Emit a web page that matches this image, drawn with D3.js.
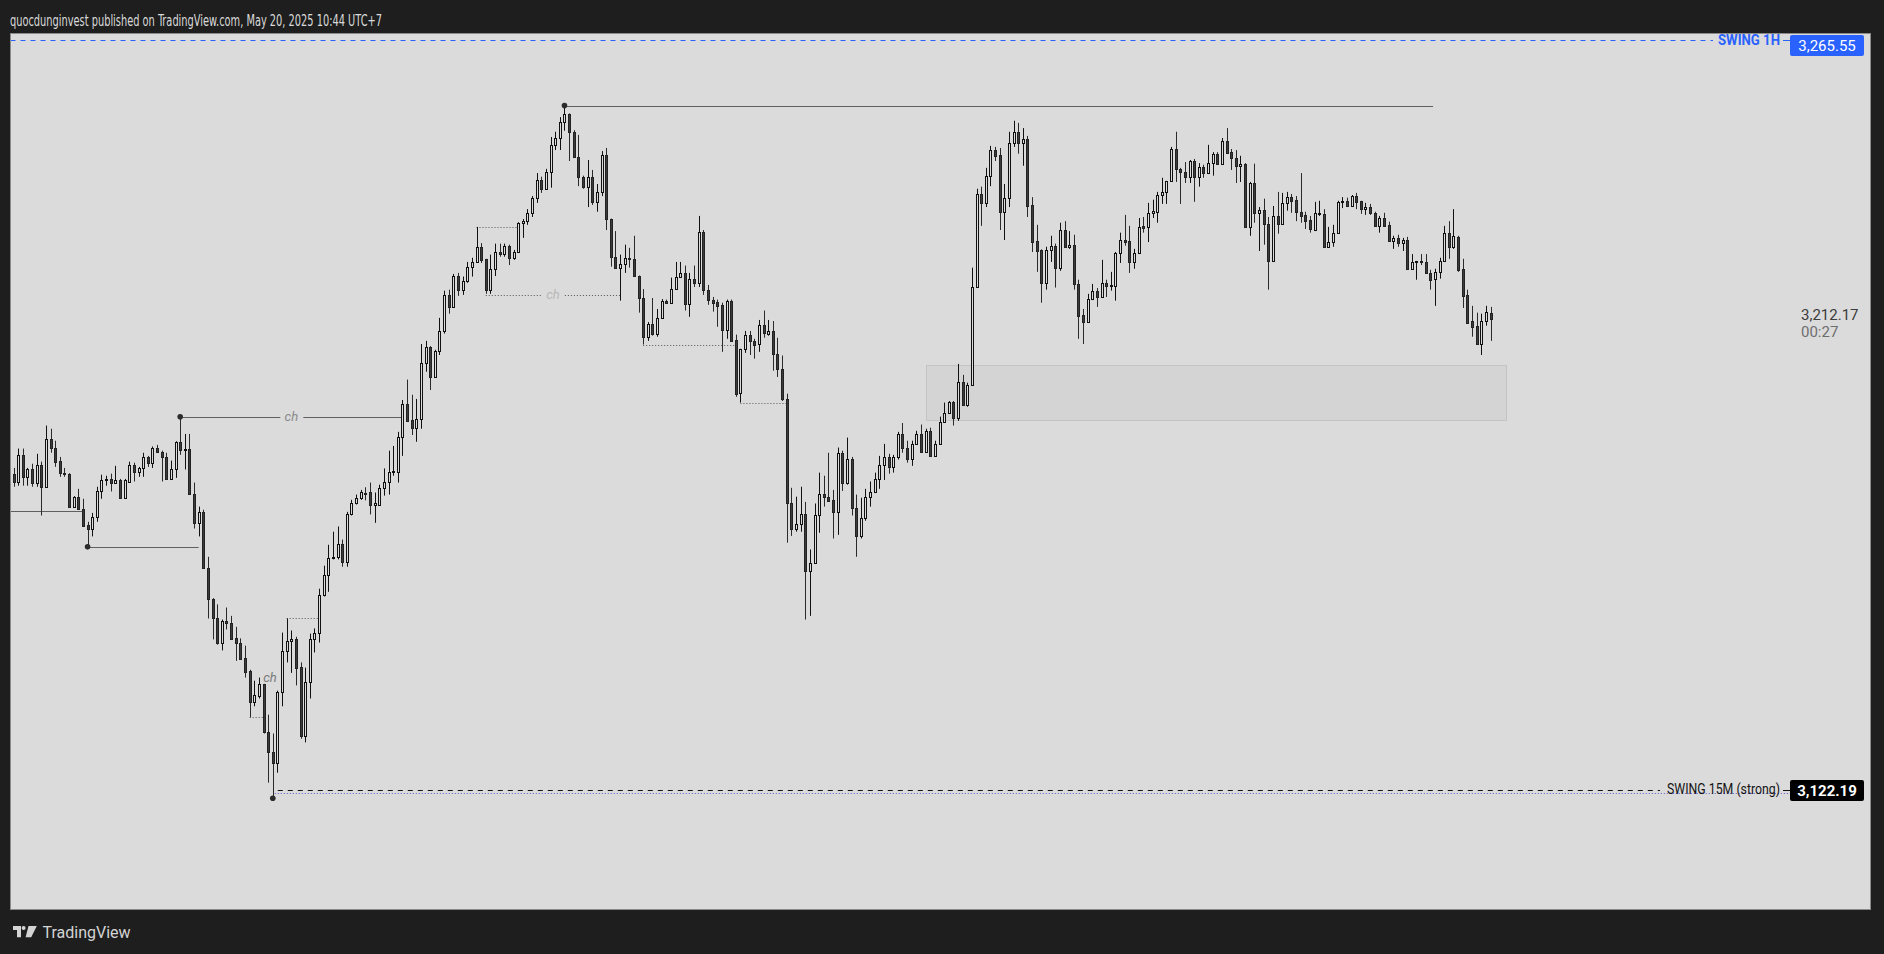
<!DOCTYPE html>
<html>
<head>
<meta charset="utf-8">
<script src="https://cdn.jsdelivr.net/npm/d3@7/dist/d3.min.js"></script>
<style>
html,body{margin:0;padding:0;background:#1e1e1e;overflow:hidden;}
svg{display:block;}
</style>
</head>
<body>
<svg id="chart" width="1884" height="954"></svg>
<script>
// ================= DATA =================
const openV = [
3182.6,3181.1,3186.2,3182.0,3183.4,3180.9,3184.3,3180.1,3189.3,3187.6,
3185.1,3182.7,3182.6,3176.3,3178.2,3175.9,3172.7,3172.1,3174.4,3179.2,
3181.3,3181.5,3180.9,3181.4,3178.0,3181.1,3184.3,3183.0,3183.6,3185.8,
3184.7,3187.6,3186.8,3185.8,3181.6,3183.4,3188.7,3187.2,3187.4,3178.8,
3173.2,3175.3,3164.6,3158.7,3154.9,3150.3,3154.5,3154.1,3151.2,3150.3,
3147.4,3144.9,3139.0,3140.0,3142.3,3133.1,3129.3,3127.3,3140.9,3148.6,
3150.5,3150.9,3145.7,3132.5,3142.8,3150.9,3152.2,3159.3,3163.3,3166.5,
3166.7,3169.2,3165.8,3174.9,3177.0,3178.0,3178.9,3179.0,3176.7,3176.7,
3179.9,3181.1,3183.0,3183.0,3189.7,3196.0,3192.9,3191.4,3193.1,3203.8,
3206.9,3201.1,3206.1,3209.9,3216.8,3214.5,3220.4,3217.8,3219.5,3222.2,
3223.1,3226.0,3223.7,3217.8,3221.8,3225.0,3224.6,3226.2,3223.9,3225.0,
3230.6,3230.9,3232.5,3235.4,3238.8,3237.1,3240.3,3245.5,3246.8,3249.9,
3251.4,3248.0,3243.2,3239.4,3237.5,3239.4,3234.6,3236.5,3243.6,3231.3,
3224.1,3222.0,3222.7,3223.9,3223.7,3220.4,3216.2,3208.8,3211.3,3209.4,
3212.4,3215.7,3215.3,3218.0,3220.3,3221.0,3215.1,3219.9,3219.1,3228.9,
3217.8,3215.9,3215.5,3214.9,3210.1,3215.7,3208.2,3198.1,3206.5,3209.2,
3208.0,3207.4,3211.1,3209.4,3209.9,3205.5,3202.7,3196.9,3176.9,3172.1,
3173.0,3174.8,3163.9,3165.6,3174.6,3178.8,3178.2,3177.6,3175.3,3186.6,
3180.9,3185.5,3176.1,3170.6,3174.2,3178.2,3179.0,3181.6,3184.3,3185.7,
3183.9,3185.8,3190.2,3187.6,3185.5,3188.3,3190.2,3186.8,3190.8,3186.0,
3188.3,3192.5,3194.3,3196.4,3193.3,3200.2,3195.8,3199.6,3218.3,3236.1,
3234.4,3239.6,3244.5,3243.6,3232.7,3235.4,3245.9,3248.0,3245.9,3246.6,
3234.0,3227.1,3225.4,3219.1,3225.4,3226.2,3222.0,3229.2,3226.0,3226.4,
3218.9,3213.0,3211.6,3216.0,3217.6,3216.4,3219.1,3218.5,3218.5,3224.8,
3227.3,3227.1,3223.1,3224.8,3230.0,3229.8,3232.5,3232.7,3235.9,3236.5,
3238.6,3244.7,3240.9,3240.3,3239.4,3242.4,3239.4,3241.3,3240.1,3242.0,
3243.8,3241.9,3246.2,3244.1,3243.0,3241.5,3241.9,3229.8,3238.2,3232.5,
3233.1,3230.4,3223.3,3231.9,3230.4,3234.4,3235.5,3235.0,3232.7,3232.1,
3231.1,3229.2,3232.3,3232.3,3226.0,3226.9,3228.7,3234.6,3234.8,3233.8,
3235.7,3234.8,3233.2,3233.6,3232.5,3230.0,3231.5,3230.2,3227.1,3227.7,
3226.7,3227.3,3221.8,3223.1,3223.2,3223.1,3221.0,3219.9,3221.2,3223.3,
3228.7,3226.0,3227.9,3221.8,3216.8,3211.8,3210.9,3207.4,3211.8,3213.4
];
const highV = [
3183.7,3187.4,3187.4,3183.7,3184.5,3186.4,3184.9,3191.8,3191.2,3188.9,
3185.8,3183.7,3182.7,3178.3,3179.7,3177.8,3173.4,3175.1,3180.1,3182.4,
3182.2,3182.6,3184.1,3181.6,3181.6,3184.9,3184.7,3183.9,3186.6,3186.0,
3187.8,3188.1,3187.0,3186.6,3185.1,3188.8,3193.9,3190.2,3190.2,3180.9,
3176.3,3175.7,3166.7,3158.8,3157.6,3154.7,3157.0,3155.4,3153.3,3151.1,
3149.7,3145.1,3143.0,3143.6,3142.4,3136.5,3132.9,3141.1,3152.2,3154.9,
3152.6,3151.4,3146.5,3145.5,3152.0,3153.0,3160.6,3165.0,3169.0,3171.5,
3172.5,3170.0,3175.3,3177.6,3178.6,3179.5,3180.0,3180.9,3179.0,3180.5,
3183.6,3187.0,3187.9,3190.6,3196.7,3200.6,3197.7,3196.9,3207.4,3208.0,
3207.0,3206.3,3212.4,3217.6,3217.8,3220.8,3221.0,3220.3,3223.1,3223.9,
3229.8,3226.7,3223.7,3224.5,3226.6,3226.6,3226.6,3226.4,3225.4,3230.7,
3231.3,3233.2,3235.7,3240.1,3239.4,3240.9,3247.0,3248.0,3250.8,3253.0,
3251.5,3248.3,3247.4,3239.6,3242.6,3240.7,3238.0,3244.3,3244.9,3231.4,
3229.0,3224.5,3226.4,3225.8,3228.1,3220.5,3217.9,3211.6,3216.2,3214.1,
3216.0,3215.9,3220.1,3223.1,3223.1,3222.4,3221.0,3222.4,3231.9,3229.2,
3218.7,3216.4,3215.9,3215.3,3215.9,3215.9,3209.2,3206.5,3209.9,3209.9,
3208.4,3212.0,3213.8,3212.0,3211.8,3208.6,3205.2,3197.9,3179.9,3178.2,
3180.1,3177.2,3168.1,3176.9,3182.8,3182.2,3186.6,3179.5,3187.6,3187.0,
3189.5,3185.8,3178.6,3178.0,3179.7,3181.1,3182.8,3186.0,3188.3,3186.4,
3186.2,3190.6,3192.3,3188.9,3188.9,3190.8,3192.0,3191.2,3191.4,3188.9,
3193.5,3196.2,3196.5,3196.5,3203.6,3201.5,3200.0,3222.0,3237.1,3237.5,
3241.1,3245.3,3245.1,3244.9,3238.0,3248.0,3250.1,3249.7,3248.7,3247.2,
3235.5,3230.2,3225.5,3226.0,3228.1,3226.6,3230.6,3230.9,3229.0,3228.3,
3219.7,3214.1,3217.0,3218.9,3218.1,3223.5,3219.7,3221.2,3225.0,3228.7,
3232.1,3230.0,3225.6,3231.5,3231.7,3234.4,3235.0,3236.5,3239.2,3238.6,
3245.1,3248.0,3241.1,3242.2,3242.6,3242.8,3242.0,3241.7,3245.5,3244.1,
3244.1,3246.8,3248.7,3244.7,3244.5,3243.4,3242.0,3238.4,3241.9,3233.6,
3235.2,3231.7,3233.8,3236.5,3236.3,3236.5,3236.1,3235.7,3240.1,3232.7,
3231.9,3234.6,3234.8,3233.2,3229.8,3230.2,3234.8,3235.5,3235.4,3235.9,
3236.3,3234.8,3234.4,3234.2,3232.7,3231.9,3232.5,3230.8,3228.1,3228.3,
3227.7,3227.9,3224.6,3223.3,3224.6,3224.6,3221.6,3221.8,3223.9,3230.0,
3230.9,3233.2,3228.1,3223.7,3217.8,3214.7,3213.4,3213.2,3214.7,3214.5
];
const lowV = [
3180.1,3180.3,3180.3,3180.3,3180.1,3180.1,3174.6,3180.0,3186.6,3183.9,
3182.0,3182.0,3176.1,3176.1,3175.8,3172.4,3168.6,3170.6,3173.4,3177.8,
3180.3,3179.2,3180.8,3177.8,3177.8,3181.0,3181.1,3182.0,3182.0,3183.9,
3183.7,3186.6,3181.1,3181.5,3181.4,3181.8,3186.2,3183.4,3178.7,3172.1,
3170.6,3164.4,3154.9,3150.9,3149.9,3148.8,3152.8,3151.0,3146.8,3147.2,
3143.6,3136.0,3138.1,3139.6,3132.9,3123.5,3120.8,3125.4,3138.1,3146.5,
3144.5,3142.1,3131.9,3131.2,3139.6,3148.4,3150.3,3159.1,3160.0,3166.2,
3166.2,3164.8,3164.8,3174.6,3176.7,3177.6,3177.5,3174.8,3173.2,3176.5,
3178.4,3178.6,3182.2,3180.9,3186.0,3192.6,3190.0,3188.7,3191.2,3202.1,
3198.6,3200.9,3205.3,3209.4,3213.2,3214.3,3216.6,3216.8,3219.1,3220.3,
3222.9,3222.9,3217.0,3217.0,3220.4,3224.1,3224.1,3222.5,3223.5,3224.8,
3227.7,3230.2,3231.7,3234.4,3236.3,3236.9,3237.3,3244.5,3244.5,3248.2,
3242.4,3243.0,3237.6,3237.1,3233.6,3234.0,3232.7,3235.7,3229.2,3222.2,
3221.9,3215.7,3221.0,3222.0,3220.3,3213.4,3207.3,3208.0,3209.0,3208.8,
3212.2,3215.1,3215.1,3217.8,3220.1,3213.8,3212.6,3218.3,3218.3,3216.8,
3214.9,3213.6,3210.7,3205.9,3208.4,3207.8,3197.3,3196.2,3205.7,3205.3,
3204.6,3205.9,3208.6,3209.0,3202.3,3201.1,3196.5,3169.4,3170.7,3171.5,
3171.5,3154.7,3155.4,3165.4,3171.3,3176.3,3177.3,3170.2,3170.9,3179.3,
3180.5,3174.6,3166.7,3170.2,3173.6,3176.3,3178.9,3179.7,3181.4,3182.6,
3182.8,3185.3,3186.6,3184.7,3184.1,3188.1,3186.7,3186.6,3185.8,3185.9,
3188.1,3192.3,3194.1,3191.8,3192.7,3195.6,3195.4,3199.5,3218.2,3230.0,
3233.6,3237.6,3242.4,3229.2,3227.3,3233.6,3245.1,3243.8,3241.5,3231.7,
3225.0,3221.2,3215.3,3217.8,3223.1,3218.2,3221.4,3225.8,3225.6,3217.8,
3208.4,3207.4,3211.5,3215.8,3214.5,3216.3,3216.4,3217.6,3215.7,3222.9,
3226.2,3221.0,3221.8,3224.6,3228.7,3226.9,3231.5,3230.6,3234.2,3234.2,
3238.4,3238.4,3234.2,3238.2,3238.2,3234.6,3237.5,3239.2,3239.9,3239.6,
3241.7,3241.8,3243.8,3240.7,3238.2,3238.4,3229.6,3228.1,3230.6,3225.2,
3226.4,3217.8,3223.1,3228.5,3230.2,3232.9,3232.5,3230.9,3230.6,3229.4,
3228.7,3229.0,3231.9,3225.9,3225.9,3226.0,3228.6,3233.4,3233.6,3233.6,
3233.2,3232.3,3232.1,3232.1,3229.9,3228.7,3229.9,3227.0,3225.6,3226.0,
3225.2,3221.7,3221.6,3219.7,3222.5,3220.8,3217.8,3214.7,3219.9,3223.1,
3223.7,3225.6,3221.2,3214.3,3211.4,3208.8,3207.3,3205.3,3210.9,3208.0
];
const closeV = [
3181.1,3186.2,3182.0,3183.4,3180.9,3184.3,3180.1,3189.3,3187.6,3184.9,
3182.8,3182.6,3176.3,3178.2,3175.9,3172.5,3172.1,3174.4,3179.3,3181.4,
3181.5,3180.9,3181.4,3178.0,3181.3,3184.3,3183.0,3183.6,3185.8,3184.7,
3187.6,3186.8,3185.8,3181.6,3183.4,3188.7,3187.2,3187.4,3178.8,3173.2,
3175.3,3164.6,3158.7,3154.9,3150.3,3154.5,3154.1,3151.0,3150.3,3147.2,
3144.7,3139.0,3140.2,3142.3,3133.1,3129.3,3127.3,3140.9,3148.6,3150.5,
3150.9,3145.5,3132.5,3142.8,3151.0,3152.2,3159.3,3163.3,3166.5,3166.7,
3169.2,3165.8,3174.9,3177.0,3178.0,3179.0,3178.8,3176.7,3176.9,3179.9,
3181.1,3183.0,3183.1,3189.7,3196.0,3192.7,3191.4,3193.1,3203.8,3206.9,
3201.1,3206.1,3209.9,3216.8,3214.5,3220.4,3217.8,3219.5,3222.2,3223.1,
3226.0,3223.5,3217.8,3221.8,3225.0,3224.6,3226.2,3223.9,3225.0,3230.6,
3230.9,3232.5,3235.4,3238.8,3237.1,3240.3,3245.5,3246.8,3249.9,3251.4,
3248.0,3243.2,3239.4,3237.5,3239.4,3234.6,3236.5,3243.6,3231.3,3224.1,
3222.0,3222.7,3223.9,3223.7,3220.4,3216.2,3208.8,3211.3,3209.4,3212.4,
3215.7,3215.3,3218.0,3220.3,3221.0,3215.1,3219.9,3219.1,3228.9,3217.8,
3215.9,3215.3,3214.7,3210.1,3215.7,3208.0,3197.9,3206.5,3209.2,3208.0,
3207.3,3211.1,3209.5,3209.9,3205.5,3202.7,3196.9,3176.9,3172.1,3173.0,
3174.8,3163.9,3165.6,3174.6,3178.8,3178.2,3177.4,3175.3,3186.6,3180.9,
3185.5,3176.1,3170.6,3174.2,3178.2,3179.0,3181.6,3184.3,3185.7,3183.9,
3185.8,3190.2,3187.6,3185.5,3188.3,3190.2,3186.8,3190.8,3186.0,3188.3,
3192.5,3194.3,3196.4,3193.3,3200.2,3195.8,3199.6,3218.3,3236.1,3234.4,
3239.6,3244.5,3243.4,3232.7,3235.4,3245.9,3248.0,3245.9,3246.6,3233.8,
3226.9,3225.2,3219.1,3225.4,3226.2,3222.0,3229.2,3226.0,3226.4,3218.9,
3212.8,3211.6,3216.0,3217.6,3216.4,3219.1,3218.5,3218.7,3224.8,3227.3,
3226.9,3223.1,3224.8,3229.8,3229.6,3232.5,3232.9,3235.9,3236.5,3238.6,
3244.7,3240.9,3240.3,3239.4,3242.4,3239.4,3241.3,3240.1,3242.0,3243.8,
3241.9,3246.2,3243.9,3243.0,3241.5,3241.9,3229.8,3238.2,3232.5,3233.1,
3230.4,3223.3,3231.9,3230.4,3234.4,3235.5,3234.8,3232.7,3231.9,3230.9,
3229.4,3232.5,3232.4,3226.0,3226.9,3228.7,3234.6,3234.8,3233.8,3235.7,
3234.6,3233.2,3233.6,3232.5,3230.0,3231.5,3230.0,3227.1,3227.7,3226.7,
3227.3,3221.8,3223.1,3223.2,3223.1,3221.0,3219.7,3221.2,3223.3,3228.7,
3226.0,3228.1,3221.6,3216.6,3211.5,3210.7,3207.4,3211.8,3213.6,3212.17
];

const swing1H = 3265.55;
const swing15M = 3122.19;
const swingLowBar = 56;
const swingLowPrice = 3120.8;
const strongLowPrice = 3121.6;
const lastPrice = 3212.17;
const countdown = "00:27";
const swing1HText = "SWING 1H";
const swing15MText = "SWING 15M (strong)";

// solid structure lines: [fromBar, toBar, price, hasDot]
const solidLevels = [
  [119, 306.6, 3253.0, 1],
  [36, 84, 3193.5, 1],
  [-2, 15, 3175.5, 0],
  [16, 40, 3168.6, 1]
];
// dotted structure lines: [fromBar, toBar, price]
const dottedLevels = [
  [51, 54, 3136.0],
  [59, 66, 3154.9],
  [100, 109, 3229.8],
  [102, 131, 3216.8],
  [136, 156, 3207.3],
  [157, 167, 3196.2]
];
// "ch" labels: [bar, price]
const chLabels = [
  [60, 3193.5],
  [116.5, 3216.8],
  [55.4, 3143.6]
];
// demand zone: [fromBar, toBar, top, bottom]
const zone = [197.1, 322.4, 3203.3, 3192.8];

const titleText = "quocdunginvest published on TradingView.com, May 20, 2025 10:44 UTC+7";

// ================= DRAWING =================
const W = 1884, H = 954;
const svg = d3.select('#chart');
const font = "Roboto, 'Noto Sans', 'DejaVu Sans', sans-serif";
const narrow = "'Liberation Sans Narrow', 'DejaVu Sans Condensed', Roboto, sans-serif";
const paneBg = '#dbdbdb';

svg.append('rect').attr('width', W).attr('height', H).attr('fill', '#1e1e1e');

const paneL = 10.5, paneT = 33.5, paneR = 1870.5, paneB = 909.5;
svg.append('defs').append('clipPath').attr('id', 'clip')
  .append('rect').attr('x', paneL + 0.5).attr('y', paneT + 0.5)
  .attr('width', paneR - paneL - 1).attr('height', paneB - paneT - 1);

svg.append('rect').attr('x', paneL).attr('y', paneT)
  .attr('width', paneR - paneL).attr('height', paneB - paneT)
  .attr('fill', paneBg).attr('stroke', '#8a8a8a').attr('stroke-width', 1);

const x = d3.scaleLinear().domain([0, openV.length - 1]).range([13.5, 1490.5]);
const y = d3.scaleLinear().domain([swing15M, swing1H]).range([789.5, 40]);
const cy = p => Math.round(y(p)) + 0.5;

const plot = svg.append('g').attr('clip-path', 'url(#clip)');

// zone
plot.append('rect')
  .attr('x', Math.round(x(zone[0])) + 0.5)
  .attr('y', cy(zone[2]))
  .attr('width', Math.round(x(zone[1]) - x(zone[0])))
  .attr('height', Math.round(y(zone[3]) - y(zone[2])))
  .attr('fill', '#d4d4d4').attr('stroke', '#c4c4c4');

// helper: split a line around labels
function segmentsFor(from, to, price) {
  const x0 = x(from), x1 = x(to);
  let segs = [[x0, x1]];
  chLabels.forEach(l => {
    if (Math.abs(l[1] - price) < 0.05 && l[0] > from && l[0] < to) {
      const lx = x(l[0]);
      const ns = [];
      segs.forEach(s => {
        if (lx > s[0] && lx < s[1]) { ns.push([s[0], lx - 11]); ns.push([lx + 12, s[1]]); }
        else ns.push(s);
      });
      segs = ns;
    }
  });
  return segs;
}

// solid structure lines
solidLevels.forEach(l => {
  segmentsFor(l[0], l[1], l[2]).forEach(s => {
    plot.append('line').attr('x1', s[0]).attr('x2', s[1])
      .attr('y1', cy(l[2])).attr('y2', cy(l[2]))
      .attr('stroke', '#606060').attr('stroke-width', 1);
  });
});
// dotted structure lines
dottedLevels.forEach(l => {
  segmentsFor(l[0], l[1], l[2]).forEach(s => {
    plot.append('line').attr('x1', s[0]).attr('x2', s[1])
      .attr('y1', cy(l[2])).attr('y2', cy(l[2]))
      .attr('stroke', '#555').attr('stroke-width', 1)
      .attr('stroke-dasharray', '1,2');
  });
});

// candles
const bars = openV.map((o, i) => ({ i, o, h: highV[i], l: lowV[i], c: closeV[i], up: closeV[i] >= o }));
const cx = d => Math.round(x(d.i));
plot.append('g').selectAll('line').data(bars).join('line')
  .attr('x1', d => cx(d) + 0.5).attr('x2', d => cx(d) + 0.5)
  .attr('y1', d => y(d.h)).attr('y2', d => y(d.l))
  .attr('stroke', d => d.up ? '#111' : '#2a2a2a').attr('stroke-width', 1);
plot.append('g').selectAll('rect').data(bars).join('rect')
  .attr('x', d => cx(d) - 0.5)
  .attr('width', 2)
  .attr('y', d => Math.round(y(Math.max(d.o, d.c))) + 0.5)
  .attr('height', d => Math.max(1, Math.round(y(Math.min(d.o, d.c))) - Math.round(y(Math.max(d.o, d.c)))))
  .attr('fill', d => d.up ? paneBg : '#3b3b3b')
  .attr('stroke', d => d.up ? '#111' : '#222').attr('stroke-width', 1);

// dots on structure lines
solidLevels.filter(l => l[3]).forEach(l => {
  plot.append('circle').attr('cx', x(l[0])).attr('cy', y(l[2]))
    .attr('r', 2.8).attr('fill', '#2b2b2b');
});
plot.append('circle').attr('cx', x(swingLowBar)).attr('cy', y(swingLowPrice) + 1.5)
  .attr('r', 2.8).attr('fill', '#2b2b2b');

// ch labels
const chColors = ['#8b8b8b', '#b8b8b8', '#7a7a7a'];
chLabels.forEach((l, k) => {
  plot.append('text').attr('x', x(l[0])).attr('y', y(l[1]))
    .attr('text-anchor', 'middle').attr('dominant-baseline', 'central')
    .attr('font-family', font).attr('font-style', 'italic').attr('font-size', 13)
    .attr('fill', chColors[k]).text('ch');
});

// ---- right side swing levels ----
const labelEnd = 1780, boxX = 1790, boxW = 74, boxH = 21;

// SWING 1H
const y1h = cy(swing1H);
plot.append('line').attr('x1', paneL).attr('x2', 1713).attr('y1', y1h).attr('y2', y1h)
  .attr('stroke', '#2962ff').attr('stroke-dasharray', '5,5');
plot.append('line').attr('x1', 1783).attr('x2', boxX).attr('y1', y1h).attr('y2', y1h)
  .attr('stroke', '#2962ff');
plot.append('text').attr('x', labelEnd).attr('y', y(swing1H))
  .attr('text-anchor', 'end').attr('dominant-baseline', 'central')
  .attr('font-family', font).attr('font-weight', 700).attr('font-size', 14)
  .attr('textLength', 62).attr('lengthAdjust', 'spacingAndGlyphs')
  .attr('fill', '#2962ff').text(swing1HText);
const b1y = Math.max(y(swing1H) - boxH / 2, 35);
svg.append('rect').attr('x', boxX).attr('y', b1y).attr('width', boxW).attr('height', boxH)
  .attr('rx', 2).attr('fill', '#2962ff');
svg.append('text').attr('x', boxX + boxW / 2).attr('y', b1y + boxH / 2 + 0.5)
  .attr('text-anchor', 'middle').attr('dominant-baseline', 'central')
  .attr('font-family', font).attr('font-size', 15).attr('fill', '#ffffff')
  .text(d3.format(',.2f')(swing1H));

// SWING 15M (strong)
const y15 = cy(swing15M);
plot.append('line').attr('x1', x(swingLowBar) + 5).attr('x2', 1660).attr('y1', y15).attr('y2', y15)
  .attr('stroke', '#111').attr('stroke-dasharray', '5,5');
plot.append('line').attr('x1', 1783).attr('x2', boxX).attr('y1', y15).attr('y2', y15)
  .attr('stroke', '#111');
plot.append('line').attr('x1', x(swingLowBar) + 2).attr('x2', boxX)
  .attr('y1', cy(strongLowPrice)).attr('y2', cy(strongLowPrice))
  .attr('stroke', '#5a5ad0').attr('stroke-dasharray', '1,2');
plot.append('text').attr('x', labelEnd).attr('y', y(swing15M) - 1)
  .attr('text-anchor', 'end').attr('dominant-baseline', 'central')
  .attr('font-family', font).attr('font-size', 14)
  .attr('textLength', 113).attr('lengthAdjust', 'spacingAndGlyphs')
  .attr('fill', '#131313').text(swing15MText);
const b2y = y(swing15M) - boxH / 2 + 1;
svg.append('rect').attr('x', boxX).attr('y', b2y).attr('width', boxW).attr('height', boxH)
  .attr('rx', 2).attr('fill', '#000000');
svg.append('text').attr('x', boxX + boxW / 2).attr('y', b2y + boxH / 2 + 0.5)
  .attr('text-anchor', 'middle').attr('dominant-baseline', 'central')
  .attr('font-family', font).attr('font-weight', 700).attr('font-size', 15).attr('fill', '#ffffff')
  .text(d3.format(',.2f')(swing15M));

// current price + countdown
const yl = y(lastPrice) - 4;
svg.append('text').attr('x', 1801).attr('y', yl)
  .attr('dominant-baseline', 'central')
  .attr('font-family', font).attr('font-size', 15).attr('fill', '#3c3c3c')
  .text(d3.format(',.2f')(lastPrice));
svg.append('text').attr('x', 1801).attr('y', yl + 16.5)
  .attr('dominant-baseline', 'central')
  .attr('font-family', font).attr('font-size', 15).attr('fill', '#6e6e6e')
  .text(countdown);

// ---- header / footer ----
svg.append('text').attr('x', 10).attr('y', 25.5)
  .attr('font-family', narrow).attr('font-size', 16.5).attr('fill', '#dadada')
  .attr('textLength', 372).attr('lengthAdjust', 'spacingAndGlyphs')
  .text(titleText);

const logo = svg.append('g').attr('fill', '#d4d4d4');
logo.append('path').attr('d', 'M13,926 H21 V937.3 H17 V930 H13 Z');
logo.append('circle').attr('cx', 23.6).attr('cy', 928).attr('r', 2);
logo.append('path').attr('d', 'M28.5,926 H36.8 L31.2,937.3 H25.6 Z');
svg.append('text').attr('x', 42.5).attr('y', 937.5)
  .attr('font-family', font).attr('font-size', 16).attr('font-weight', 400)
  .attr('fill', '#d4d4d4').text('TradingView');
</script>
</body>
</html>
